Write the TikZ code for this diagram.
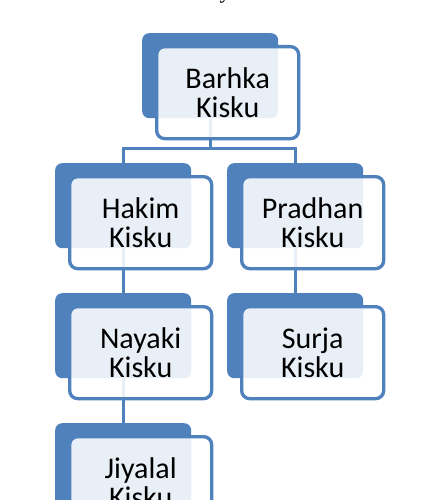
\documentclass[tikz,border=0pt]{standalone}
\usepackage{fontspec}
\setmainfont{Carlito}
\newfontfamily\titlefont{Liberation Serif}
\usetikzlibrary{backgrounds}
\definecolor{famblue}{HTML}{4F81BD}
\tikzset{
  backbox/.style={fill=famblue, rounded corners=7pt, minimum width=136pt, minimum height=85pt, inner sep=0pt, anchor=north west},
  frontbox/.style={draw=famblue, line width=3.3pt, fill=white, fill opacity=0.88, text opacity=1, rounded corners=8pt, minimum width=142pt, minimum height=92pt, inner sep=0pt, align=center, font=\fontsize{30}{29}\selectfont, anchor=north west},
  link/.style={draw=famblue, line width=3pt}
}
\begin{document}
\begin{tikzpicture}[x=1pt,y=-1pt]
\useasboundingbox (0,0) rectangle (437,500);
\clip (0,0) rectangle (437,500);
\node[font=\titlefont\fontsize{22}{22}\selectfont, anchor=base] (title) at (222,-1) {Family Tree};
% back rectangles
\node[backbox] (bb) at (142,33) {};
\node[backbox] (hb) at (55,163) {};
\node[backbox] (pb) at (227,163) {};
\node[backbox] (nb) at (55,293) {};
\node[backbox] (sb) at (227,293) {};
\node[backbox] (jb) at (55,423) {};
% connectors behind the back rectangles
\coordinate (j) at (210,148);
\begin{scope}[on background layer]
\draw[link] (bb.center) -- (bb.center |- j);
\draw[link] (hb.north) -- (hb.north |- j) -| (pb.north);
\draw[link] (hb.center) -- (nb.north);
\draw[link] (pb.center) -- (sb.north);
\draw[link] (nb.center) -- (jb.north);
\end{scope}
% front boxes
\node[frontbox] (b) at (155,45) {Barhka\\Kisku};
\node[frontbox] (h) at (68,175) {Hakim\\Kisku};
\node[frontbox] (p) at (240,175) {Pradhan\\Kisku};
\node[frontbox] (n) at (68,305) {Nayaki\\Kisku};
\node[frontbox] (s) at (240,305) {Surja\\Kisku};
\node[frontbox] (jy) at (68,435) {Jiyalal\\Kisku};
\end{tikzpicture}
\end{document}
